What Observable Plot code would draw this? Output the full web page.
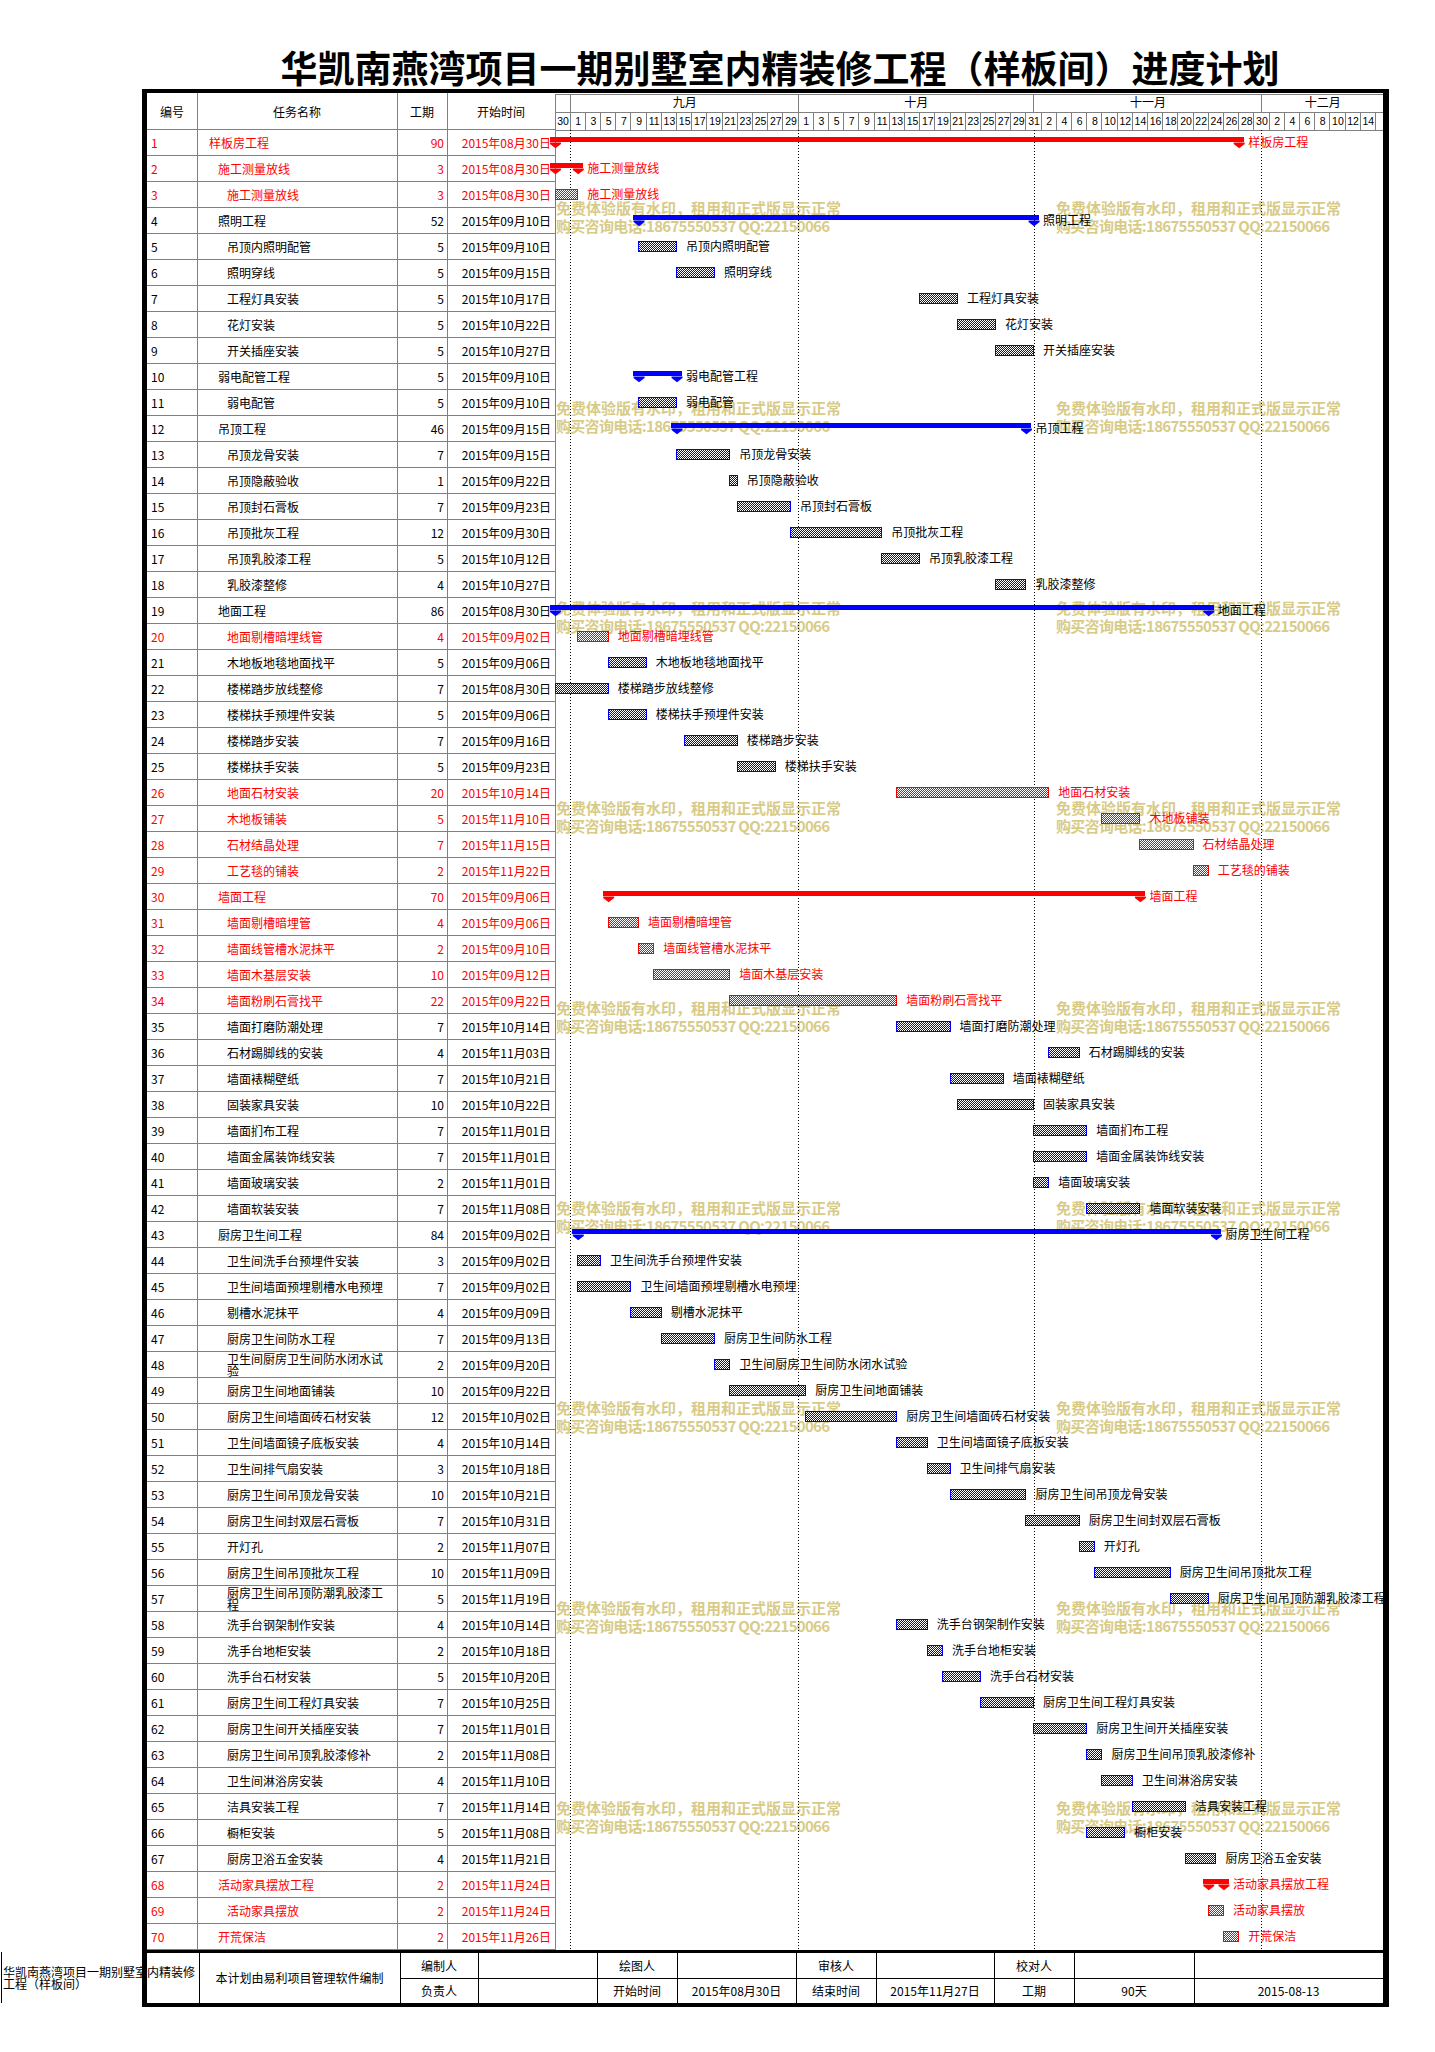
<!DOCTYPE html>
<html lang="zh-CN">
<head>
<meta charset="utf-8">
<title>华凯南燕湾项目一期别墅室内精装修工程（样板间）进度计划</title>
<script src="https://cdn.jsdelivr.net/npm/d3@7"></script>
<script src="https://cdn.jsdelivr.net/npm/@observablehq/plot@0.6"></script>
<style>
html,body{margin:0;padding:0;background:#fff;}
#page{position:relative;width:1435px;height:2052px;overflow:hidden;font-family:"Noto Sans CJK SC","Noto Sans",sans-serif;font-size:12px;color:#000;}
.a{position:absolute;white-space:nowrap;}
.w{position:absolute;white-space:normal;display:flex;align-items:center;line-height:12px;}
</style>
</head>
<body>
<div id="page"></div>
<script>
// ---------------- DATA ----------------
const titleText = "华凯南燕湾项目一期别墅室内精装修工程（样板间）进度计划";
const headerLabels = ["编号", "任务名称", "工期", "开始时间"];

const taskNames = ["样板房工程","施工测量放线","施工测量放线","照明工程","吊顶内照明配管","照明穿线","工程灯具安装","花灯安装","开关插座安装","弱电配管工程",
"弱电配管","吊顶工程","吊顶龙骨安装","吊顶隐蔽验收","吊顶封石膏板","吊顶批灰工程","吊顶乳胶漆工程","乳胶漆整修","地面工程","地面剔槽暗埋线管",
"木地板地毯地面找平","楼梯踏步放线整修","楼梯扶手预埋件安装","楼梯踏步安装","楼梯扶手安装","地面石材安装","木地板铺装","石材结晶处理","工艺毯的铺装","墙面工程",
"墙面剔槽暗埋管","墙面线管槽水泥抹平","墙面木基层安装","墙面粉刷石膏找平","墙面打磨防潮处理","石材踢脚线的安装","墙面裱糊壁纸","固装家具安装","墙面扪布工程","墙面金属装饰线安装",
"墙面玻璃安装","墙面软装安装","厨房卫生间工程","卫生间洗手台预埋件安装","卫生间墙面预埋剔槽水电预埋","剔槽水泥抹平","厨房卫生间防水工程","卫生间厨房卫生间防水闭水试验","厨房卫生间地面铺装","厨房卫生间墙面砖石材安装",
"卫生间墙面镜子底板安装","卫生间排气扇安装","厨房卫生间吊顶龙骨安装","厨房卫生间封双层石膏板","开灯孔","厨房卫生间吊顶批灰工程","厨房卫生间吊顶防潮乳胶漆工程","洗手台钢架制作安装","洗手台地柜安装","洗手台石材安装",
"厨房卫生间工程灯具安装","厨房卫生间开关插座安装","厨房卫生间吊顶乳胶漆修补","卫生间淋浴房安装","洁具安装工程","橱柜安装","厨房卫浴五金安装","活动家具摆放工程","活动家具摆放","开荒保洁"];

const durations = [90,3,3,52,5,5,5,5,5,5,
5,46,7,1,7,12,5,4,86,4,
5,7,5,7,5,20,5,7,2,70,
4,2,10,22,7,4,7,10,7,7,
2,7,84,3,7,4,7,2,10,12,
4,3,10,7,2,10,5,4,2,5,
7,7,2,4,7,5,4,2,2,2];

const startDates = ["2015-08-30","2015-08-30","2015-08-30","2015-09-10","2015-09-10","2015-09-15","2015-10-17","2015-10-22","2015-10-27","2015-09-10",
"2015-09-10","2015-09-15","2015-09-15","2015-09-22","2015-09-23","2015-09-30","2015-10-12","2015-10-27","2015-08-30","2015-09-02",
"2015-09-06","2015-08-30","2015-09-06","2015-09-16","2015-09-23","2015-10-14","2015-11-10","2015-11-15","2015-11-22","2015-09-06",
"2015-09-06","2015-09-10","2015-09-12","2015-09-22","2015-10-14","2015-11-03","2015-10-21","2015-10-22","2015-11-01","2015-11-01",
"2015-11-01","2015-11-08","2015-09-02","2015-09-02","2015-09-02","2015-09-09","2015-09-13","2015-09-20","2015-09-22","2015-10-02",
"2015-10-14","2015-10-18","2015-10-21","2015-10-31","2015-11-07","2015-11-09","2015-11-19","2015-10-14","2015-10-18","2015-10-20",
"2015-10-25","2015-11-01","2015-11-08","2015-11-10","2015-11-14","2015-11-08","2015-11-21","2015-11-24","2015-11-24","2015-11-26"];

const outlineLevels = [0,1,2,1,2,2,2,2,2,1,
2,1,2,2,2,2,2,2,1,2,
2,2,2,2,2,2,2,2,2,1,
2,2,2,2,2,2,2,2,2,2,
2,2,1,2,2,2,2,2,2,2,
2,2,2,2,2,2,2,2,2,2,
2,2,2,2,2,2,2,1,2,1];

const summaryIds = [1,2,4,10,12,19,30,43,68];
const criticalIds = [1,2,3,20,26,27,28,29,30,31,32,33,34,68,69,70];

const monthNames = ["", "九月", "十月", "十一月", "十二月"];
const monthBounds = ["2015-08-30","2015-09-01","2015-10-01","2015-11-01","2015-12-01","2015-12-17"];
const dayLabels = [30,1,3,5,7,9,11,13,15,17,19,21,23,25,27,29,
  1,3,5,7,9,11,13,15,17,19,21,23,25,27,29,31,
  2,4,6,8,10,12,14,16,18,20,22,24,26,28,30,
  2,4,6,8,10,12,14,""];
const monthLines = ["2015-09-01","2015-10-01","2015-11-01","2015-12-01"];

const watermarkLines = ["免费体验版有水印，租用和正式版显示正常", "购买咨询电话:18675550537 QQ:22150066"];

const footerNote = "本计划由易利项目管理软件编制";
const footerProject = "华凯南燕湾项目一期别墅室内精装修工程（样板间）";
const footerRow1 = ["编制人","","绘图人","","审核人","","校对人","",""];
const footerRow2 = ["负责人","","开始时间","2015年08月30日","结束时间","2015年11月27日","工期","90天","2015-08-13"];

// ---------------- BUILD ----------------
const RED = "#ff0000", BLUE = "#0000ff", GRID = "#808080";
const parse = d3.utcParse("%Y-%m-%d");
const xStart = parse(monthBounds[0]);
const xEnd = parse(monthBounds[monthBounds.length - 1]);

const tasks = taskNames.map((name, i) => {
  const start = parse(startDates[i]);
  return {
    id: i + 1, name, dur: durations[i], start,
    end: d3.utcDay.offset(start, durations[i]),
    dateText: d3.utcFormat("%Y年%m月%d日")(start),
    level: outlineLevels[i],
    crit: criticalIds.includes(i + 1),
    summary: summaryIds.includes(i + 1)
  };
});

const page = document.getElementById("page");
function add(cls, css, text) {
  const d = document.createElement("div");
  d.className = cls;
  d.style.cssText = css;
  if (text != null) d.textContent = text;
  page.appendChild(d);
  return d;
}

// Title
add("a", `left:780px;top:44px;transform:translateX(-50%);font-size:37px;line-height:46px;font-weight:700;`, titleText);

// Table geometry (layout)
const TOP = 93, HEAD = 130, ROWH = 26, ROWS_END = HEAD + ROWH * tasks.length;
const colEdges = [147, 197, 397, 447, 555];

for (const x of colEdges.slice(1, 4)) add("a", `left:${x}px;top:${TOP}px;width:1px;height:${ROWS_END - TOP}px;background:${GRID};`);
add("a", `left:147px;top:${HEAD - 1}px;width:${555 - 147}px;height:1px;background:${GRID};`);
headerLabels.forEach((t, i) => {
  add("a", `left:${colEdges[i]}px;top:${TOP}px;width:${colEdges[i + 1] - colEdges[i]}px;height:${HEAD - TOP}px;line-height:${HEAD - TOP}px;text-align:center;`, t);
});

tasks.forEach((d, i) => {
  const top = HEAD + ROWH * i;
  const c = d.crit ? RED : "#000";
  add("a", `left:147px;top:${top + ROWH - 1}px;width:${555 - 147}px;height:1px;background:${GRID};`);
  add("a", `left:151px;top:${top}px;height:${ROWH}px;line-height:${ROWH}px;color:${c};`, String(d.id));
  const nx = 209 + 9 * d.level;
  add("w", `left:${nx}px;top:${top}px;width:${393 - nx}px;height:${ROWH - 1}px;color:${c};`, d.name);
  add("a", `left:397px;top:${top}px;width:47px;height:${ROWH}px;line-height:${ROWH}px;text-align:right;color:${c};`, String(d.dur));
  add("a", `left:447px;top:${top}px;width:104px;height:${ROWH}px;line-height:${ROWH}px;text-align:right;color:${c};`, d.dateText);
});

// watermark (behind the chart marks)
for (let k = 0; k < 9; k++) {
  for (const wx of [556, 1056]) {
    add("a", `left:${wx}px;top:${199 + 200 * k}px;font-size:15px;line-height:18px;font-weight:700;color:#d8cb88;`, watermarkLines[0]);
    add("a", `left:${wx}px;top:${217 + 200 * k}px;font-size:15px;line-height:18px;font-weight:700;color:#d8cb88;letter-spacing:-0.7px;`, watermarkLines[1]);
  }
}

// ---------------- PLOTS ----------------
const GW = 828; // gantt width 555 -> 1383
const xScale = {type: "utc", domain: [xStart, xEnd], axis: null};
const plotStyle = {background: "transparent", overflow: "visible", fontFamily: "'Noto Sans CJK SC', 'Noto Sans', sans-serif"};
const mid = d => new Date((+d.x1 + +d.x2) / 2);

const monthCells = monthNames.map((label, i) => ({label, x1: parse(monthBounds[i]), x2: parse(monthBounds[i + 1]), row: "m"}));
const dayCells = dayLabels.map((label, i) => {
  const a = d3.utcDay.offset(xStart, 2 * i);
  let b = d3.utcDay.offset(a, 2);
  if (b > xEnd) b = xEnd;
  return {label: String(label), x1: a, x2: b, row: "d"};
});

const headerPlot = Plot.plot({
  width: GW, height: HEAD - TOP,
  marginTop: 0, marginRight: 0, marginBottom: 0, marginLeft: 0,
  x: xScale,
  y: {type: "band", domain: ["m", "d"], padding: 0, axis: null},
  style: plotStyle,
  marks: [
    Plot.barX([...monthCells, ...dayCells], {x1: "x1", x2: "x2", y: "row", fill: "none", stroke: GRID, shapeRendering: "crispEdges"}),
    Plot.text(monthCells, {x: mid, y: "row", text: "label", fontSize: 12, fill: "#000"}),
    Plot.text(dayCells, {x: mid, y: "row", text: "label", fontSize: 10.5, fill: "#000", fontFamily: "'Liberation Sans Narrow', 'Liberation Sans', sans-serif"})
  ]
});

const summaries = tasks.filter(d => d.summary);
const leaves = tasks.filter(d => !d.summary);
const ends = summaries.flatMap(d => [{x: d.start, id: d.id, crit: d.crit}, {x: d.end, id: d.id, crit: d.crit}]);
const shield = {
  draw(ctx, size) {
    const s = Math.sqrt(size / Math.PI);
    ctx.moveTo(-s, 0); ctx.lineTo(s, 0); ctx.lineTo(s, s * 0.25); ctx.lineTo(0, s * 1.05); ctx.lineTo(-s, s * 0.25); ctx.closePath();
  }
};

const barOpts = {x1: "start", x2: "end", y: "id", insetTop: 7, insetBottom: 9, strokeWidth: 1, shapeRendering: "crispEdges"};
const sumOpts = {x1: "start", x2: "end", y: "id", insetTop: 7, insetBottom: 14, insetLeft: -5.5, insetRight: -5.5, shapeRendering: "crispEdges"};
const lblOpts = {x: "end", y: "id", text: "name", textAnchor: "start", dx: 9, fontSize: 12};

const mainPlot = Plot.plot({
  width: GW, height: ROWS_END - HEAD,
  marginTop: 0, marginRight: 0, marginBottom: 0, marginLeft: 0,
  x: xScale,
  y: {type: "band", domain: tasks.map(d => d.id), padding: 0, axis: null},
  style: plotStyle,
  marks: [
    Plot.frame({anchor: "left", stroke: GRID}),
    Plot.ruleX(monthLines.map(parse), {stroke: "#000", strokeDasharray: "1,2", strokeWidth: 1, shapeRendering: "crispEdges"}),
    Plot.barX(leaves, {...barOpts, filter: d => !d.crit, fill: "url(#patBlue)", stroke: BLUE}),
    Plot.barX(leaves, {...barOpts, filter: d => d.crit, fill: "url(#patRed)", stroke: RED}),
    Plot.barX(summaries, {...sumOpts, filter: d => !d.crit, fill: BLUE}),
    Plot.barX(summaries, {...sumOpts, filter: d => d.crit, fill: RED}),
    Plot.dot(ends, {x: "x", y: "id", symbol: shield, r: 5.5, dy: -1, filter: d => !d.crit, fill: BLUE, stroke: "none"}),
    Plot.dot(ends, {x: "x", y: "id", symbol: shield, r: 5.5, dy: -1, filter: d => d.crit, fill: RED, stroke: "none"}),
    Plot.text(tasks, {...lblOpts, filter: d => !d.crit, fill: "#000"}),
    Plot.text(tasks, {...lblOpts, filter: d => d.crit, fill: RED})
  ]
});

// checkered fill patterns
const defs = d3.select(mainPlot).insert("defs", ":first-child");
[["patBlue", BLUE], ["patRed", RED]].forEach(([id, col]) => {
  const p = defs.append("pattern").attr("id", id).attr("patternUnits", "userSpaceOnUse").attr("width", 2).attr("height", 2);
  p.append("rect").attr("width", 2).attr("height", 2).attr("fill", "#fff");
  p.append("rect").attr("width", 1).attr("height", 1).attr("fill", col);
  p.append("rect").attr("x", 1).attr("y", 1).attr("width", 1).attr("height", 1).attr("fill", col);
});

function place(node, left, top) {
  const holder = document.createElement("div");
  holder.style.cssText = `position:absolute;left:${left}px;top:${top}px;`;
  holder.appendChild(node);
  page.appendChild(holder);
}
place(headerPlot, 555, TOP);
place(mainPlot, 555, HEAD);

// ---------------- FOOTER ----------------
const FT = ROWS_END, FMID = 1978, FB = 2003;
add("a", `left:147px;top:${FT}px;width:${1383 - 147}px;height:3px;background:#000;`);
add("a", `left:400px;top:${FMID}px;width:${1383 - 400}px;height:1px;background:#000;`);
const fEdges = [199, 400, 478, 597, 677, 796, 876, 994, 1074, 1194, 1383];
fEdges.slice(0, -1).forEach(x => add("a", `left:${x}px;top:${FT + 3}px;width:1px;height:${FB - FT - 3}px;background:#000;`));
add("a", `left:1px;top:${FT + 2}px;width:1px;height:${FB - FT - 2}px;background:#000;`);
add("w", `left:3px;top:${FT + 3}px;width:194px;height:${FB - FT - 3}px;`, footerProject);
add("a", `left:199px;top:${FT + 3}px;width:201px;height:${FB - FT - 3}px;line-height:${FB - FT - 3}px;text-align:center;`, footerNote);
for (let j = 0; j < footerRow1.length; j++) {
  const l = fEdges[j + 1], r = fEdges[j + 2];
  add("a", `left:${l}px;top:${FT + 3}px;width:${r - l}px;height:${FMID - FT - 3}px;line-height:${FMID - FT - 3}px;text-align:center;`, footerRow1[j]);
  add("a", `left:${l}px;top:${FMID + 1}px;width:${r - l}px;height:${FB - FMID - 1}px;line-height:${FB - FMID - 1}px;text-align:center;`, footerRow2[j]);
}

// outer thick border (on top)
add("a", `left:142px;top:89px;width:1247px;height:1918px;box-sizing:border-box;border:4px solid #000;border-left-width:5px;border-right-width:6px;pointer-events:none;`);
</script>
</body>
</html>
